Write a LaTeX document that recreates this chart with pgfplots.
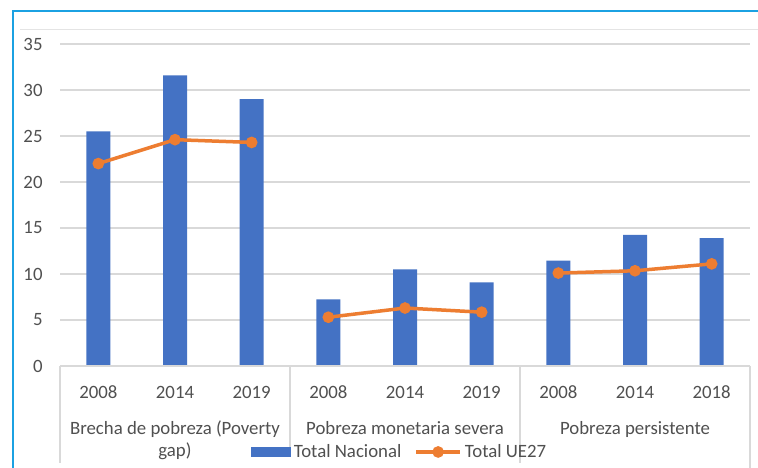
\documentclass[border=0pt]{standalone}
\usepackage{pgfplots}
\pgfplotsset{compat=1.18}
\usepackage{fontspec}
\setmainfont{Carlito}
\definecolor{barblue}{HTML}{4472C4}
\definecolor{lineorange}{HTML}{ED7D31}
\definecolor{framebl}{HTML}{1BA1E2}
\definecolor{gridc}{HTML}{D9D9D9}
\definecolor{txt}{HTML}{505050}
\begin{document}
\fontsize{18.8bp}{22bp}\selectfont
\begin{tikzpicture}[x=1bp,y=1bp]
\useasboundingbox (0,0) rectangle (758,468);
\fill[white] (0,0) rectangle (758,468);
\draw[framebl, line width=2bp] (13,0) -- (13,457) -- (758,457);
\draw[gridc!70, line width=1bp] (20,438) -- (758,438);
\begin{axis}[
  at={(60bp,102bp)}, anchor=south west,
  width=690bp, height=322bp, scale only axis,
  xmin=-0.5, xmax=8.5, ymin=0, ymax=35,
  ytick={0,5,...,35},
  xtick={0,...,8},
  xticklabels={2008,2014,2019,2008,2014,2019,2008,2014,2018},
  major tick length=0pt,
  ymajorgrids, grid style={gridc, line width=1.3bp},
  axis line style={draw=none},
  /pgf/number format/assume math mode=true,
  tick label style={font=\fontsize{18.8bp}{22bp}\selectfont, text=txt},
  yticklabel style={xshift=-11bp},
  xticklabel style={anchor=center, yshift=-26bp},
  clip=false,
  legend columns=2,
  legend style={at={(0.4928,-0.267)}, anchor=center, draw=none, fill=none,
    font=\fontsize{18.8bp}{22bp}\selectfont, text=txt,
    /tikz/every even column/.append style={column sep=10bp},
    nodes={inner xsep=3bp}},
]
\addplot[ybar, bar width=24bp, fill=barblue, draw=none,
  legend image code/.code={\fill[barblue] (0bp,-5bp) rectangle (40bp,5bp);}]
  coordinates {(0,25.5) (1,31.6) (2,29.0) (3,7.25) (4,10.5) (5,9.1) (6,11.45) (7,14.25) (8,13.9)};
\addlegendentry{Total Nacional}
\addplot[lineorange, line width=3.5bp, mark=*, mark size=4bp, mark options={fill=lineorange, draw=lineorange},
  legend image code/.code={\draw[lineorange, line width=3.5bp] (0bp,0bp) -- (44bp,0bp); \fill[lineorange] (22bp,0bp) circle (4bp);}]
  coordinates {(0,22.0) (1,24.6) (2,24.3)};
\addlegendentry{Total UE27}
\addplot[lineorange, line width=3.5bp, mark=*, mark size=4bp, mark options={fill=lineorange, draw=lineorange}, forget plot]
  coordinates {(3,5.3) (4,6.3) (5,5.85)};
\addplot[lineorange, line width=3.5bp, mark=*, mark size=4bp, mark options={fill=lineorange, draw=lineorange}, forget plot]
  coordinates {(6,10.1) (7,10.35) (8,11.1)};
\draw[gridc, line width=1.3bp] (axis cs:-0.5,0) -- (axis cs:8.5,0);
\draw[gridc, line width=1.3bp] (axis cs:-0.5,0) -- ([yshift=-97bp]axis cs:-0.5,0);
\draw[gridc, line width=1.3bp] (axis cs:2.5,0) -- ([yshift=-90bp]axis cs:2.5,0);
\draw[gridc, line width=1.3bp] (axis cs:5.5,0) -- ([yshift=-97bp]axis cs:5.5,0);
\draw[gridc, line width=1.3bp] (axis cs:8.5,0) -- ([yshift=-102bp]axis cs:8.5,0);
\node[text=txt, align=center, anchor=north, inner sep=0pt] at ([yshift=-55bp]axis cs:1,0) {Brecha de pobreza (Poverty\\gap)};
\node[text=txt, anchor=north, inner sep=0pt] at ([yshift=-55bp]axis cs:4,0) {Pobreza monetaria severa};
\node[text=txt, anchor=north, inner sep=0pt] at ([yshift=-55bp]axis cs:7,0) {Pobreza persistente};
\end{axis}
\end{tikzpicture}
\end{document}
